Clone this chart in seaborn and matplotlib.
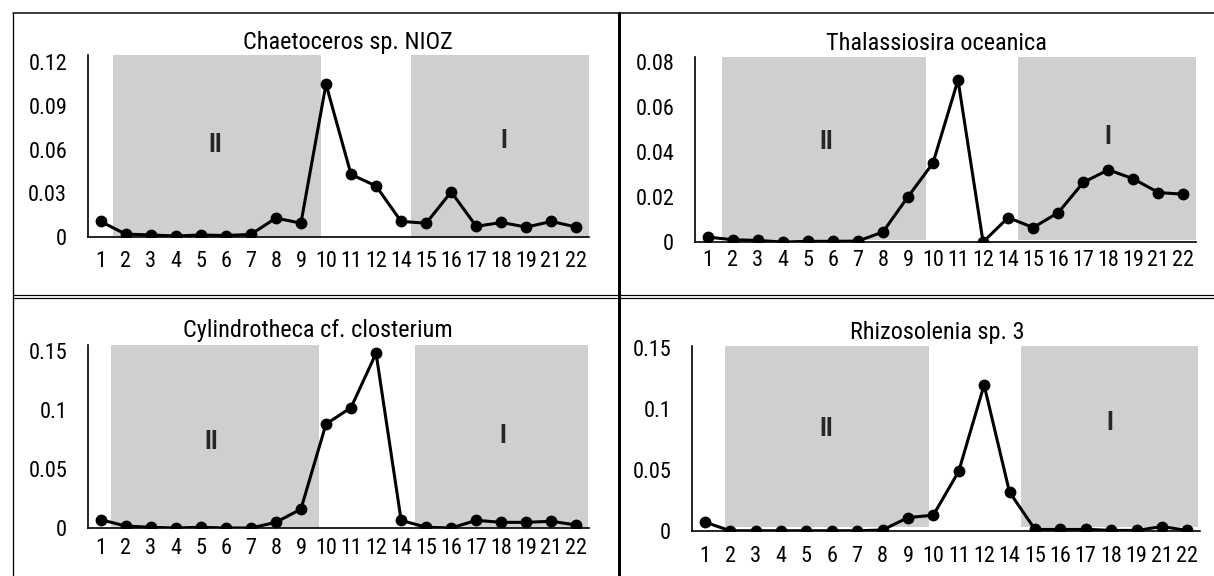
import matplotlib

matplotlib.use("Agg")
import matplotlib.pyplot as plt
import pandas as pd
import seaborn as sns
from matplotlib.lines import Line2D

# sampling stations on the x axis (13 and 20 are missing)
STATIONS = ["1", "2", "3", "4", "5", "6", "7", "8", "9", "10",
            "11", "12", "14", "15", "16", "17", "18", "19", "21", "22"]

CHAETOCEROS = [0.0107, 0.002, 0.0014, 0.0007, 0.0014, 0.001, 0.0018, 0.013, 0.0095, 0.105,
               0.043, 0.035, 0.0107, 0.0095, 0.031, 0.0073, 0.010, 0.0068, 0.0107, 0.0068]
THALASSIOSIRA = [0.0022, 0.001, 0.0007, 0.0, 0.0003, 0.0003, 0.0004, 0.0044, 0.020, 0.035,
                 0.0718, 0.0, 0.0108, 0.0064, 0.013, 0.0264, 0.032, 0.028, 0.0219, 0.0212]
CYLINDROTHECA = [0.0071, 0.0017, 0.0006, 0.0, 0.0006, 0.0, 0.0, 0.0048, 0.016, 0.088,
                 0.102, 0.148, 0.0065, 0.0006, 0.0, 0.0065, 0.0048, 0.0048, 0.0057, 0.0025]
RHIZOSOLENIA = [0.0074, 0.0002, 0.0002, 0.0002, 0.0002, 0.0002, 0.0002, 0.0008, 0.011, 0.013,
                0.049, 0.120, 0.032, 0.0014, 0.0014, 0.0014, 0.0005, 0.0005, 0.0036, 0.0005]

TITLES = ["Chaetoceros sp. NIOZ", "Thalassiosira oceanica",
          "Cylindrotheca cf. closterium", "Rhizosolenia sp. 3"]
SERIES = [CHAETOCEROS, THALASSIOSIRA, CYLINDROTHECA, RHIZOSOLENIA]
ZONE_LABELS = ["II", "I"]

W, H = 1214, 576
SHADE = "#d0cfd0"
FONT = ["Liberation Sans Narrow", "Roboto Condensed", "Archivo Narrow", "Liberation Sans", "DejaVu Sans"]

# layout per panel, in pixels of the final image / data units
PANELS = [
    dict(box=(88, 55, 589, 237), ymax=0.125, yticks=[0, 0.03, 0.06, 0.09, 0.12],
         ylabels=["0", "0.03", "0.06", "0.09", "0.12"], spans=[(0.51, 8.8), (12.39, 19.5)],
         floor=0.0, zone_pos=[(4.59, 0.0633), (16.1, 0.0656)], title_xy=(348, 43), xpad=10),
    dict(box=(695, 57, 1196, 242), ymax=0.082, yticks=[0, 0.02, 0.04, 0.06, 0.08],
         ylabels=["0", "0.02", "0.04", "0.06", "0.08"], spans=[(0.59, 8.74), (12.41, 19.5)],
         floor=0.01, zone_pos=[(4.72, 0.0444), (15.98, 0.0467)], title_xy=(936, 43), xpad=6),
    dict(box=(88, 345, 589, 528), ymax=0.155, yticks=[0, 0.05, 0.1, 0.15],
         ylabels=["0", "0.05", "0.1", "0.15"], spans=[(0.43, 8.73), (12.56, 19.45)],
         floor=0.0, zone_pos=[(4.43, 0.073), (16.07, 0.0778)], title_xy=(318, 330), xpad=7),
    dict(box=(692, 346, 1200, 531), ymax=0.152, yticks=[0, 0.05, 0.1, 0.15],
         ylabels=["0", "0.05", "0.1", "0.15"], spans=[(0.79, 8.84), (12.45, 19.42)],
         floor=0.02, zone_pos=[(4.78, 0.084), (15.96, 0.0886)], title_xy=(937, 333), xpad=11),
]


def fx(px):
    return px / W


def fy(py):
    return 1 - py / H


sns.set_theme(style="white")
plt.rcParams["font.family"] = FONT

fig = plt.figure(figsize=(W / 100, H / 100), dpi=100)

for values, title, cfg in zip(SERIES, TITLES, PANELS):
    left, top, right, bottom = cfg["box"]
    ax = fig.add_axes([fx(left), fy(bottom), fx(right) - fx(left), fy(top) - fy(bottom)])
    df = pd.DataFrame({"station": STATIONS, "value": values})

    for a, b in cfg["spans"]:
        ax.axvspan(a, b, ymin=cfg["floor"], ymax=1, color=SHADE, lw=0, zorder=0)

    sns.lineplot(data=df, x="station", y="value", sort=False, ax=ax, color="black",
                 linewidth=2.2, marker="o", markersize=8.5, markeredgewidth=0, zorder=3)

    for label, (zx, zy) in zip(ZONE_LABELS, cfg["zone_pos"]):
        ax.text(zx, zy, label, ha="center", va="center", fontsize=18, fontweight="bold")

    ax.set_xlim(-0.5, len(STATIONS) - 0.5)
    ax.set_ylim(0, cfg["ymax"])
    ax.set_yticks(cfg["yticks"])
    ax.set_yticklabels(cfg["ylabels"])
    ax.set_xlabel("")
    ax.set_ylabel("")
    ax.tick_params(axis="y", length=0, pad=15, labelsize=16, colors="black")
    ax.tick_params(axis="x", length=0, pad=cfg["xpad"], labelsize=16, colors="black")
    for side in ["top", "right"]:
        ax.spines[side].set_visible(False)
    for side in ["left", "bottom"]:
        ax.spines[side].set_color("black")
        ax.spines[side].set_linewidth(1.2)
        ax.spines[side].set_zorder(4)
    ax.patch.set_alpha(0)

    fig.text(fx(cfg["title_xy"][0]), fy(cfg["title_xy"][1]), title,
             ha="center", va="center", fontsize=17.5, color="black")

# panel frame lines
frame = [
    ([12.7, 12.7], [12.7, H], 1.3),
    ([12.7, W], [12.7, 12.7], 1.5),
    ([619, 619], [12.7, H], 3.0),
    ([12.7, W], [295.2, 295.2], 1.2),
    ([12.7, W], [298.3, 298.3], 1.2),
]
for xs, ys, lw in frame:
    fig.add_artist(Line2D([fx(x) for x in xs], [fy(y) for y in ys],
                          transform=fig.transFigure, color="black", lw=lw * 0.72))

fig.savefig("out.png", dpi=100)
